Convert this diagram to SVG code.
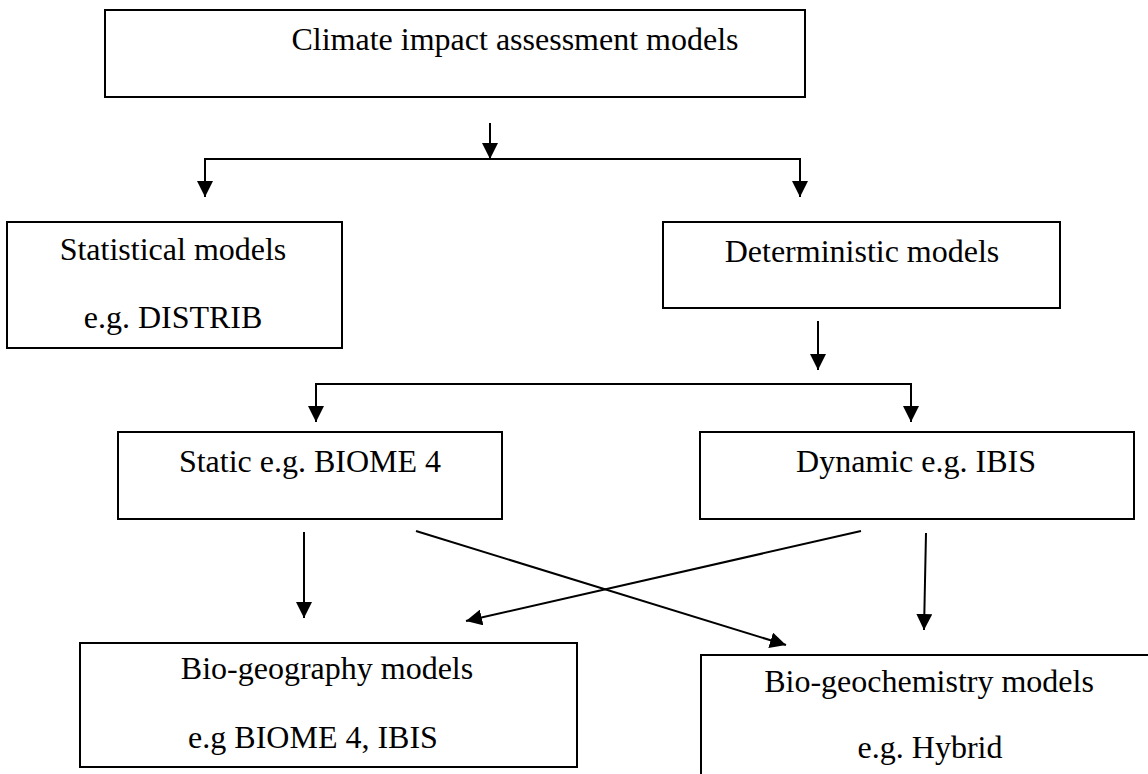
<svg xmlns="http://www.w3.org/2000/svg" width="1148" height="774" viewBox="0 0 1148 774">
<style>
.box{fill:#fff;stroke:#000;stroke-width:2}
.t{font-family:"Liberation Serif","Times New Roman",serif;font-size:32px;fill:#000;text-anchor:middle}
.c{fill:none;stroke:#000;stroke-width:2}
</style>
<defs>
<marker id="ah" markerUnits="userSpaceOnUse" markerWidth="16" markerHeight="16" viewBox="0 0 16 16" refX="16" refY="8" orient="auto">
<path d="M0,0 L16,8 L0,16 z" fill="#000"/>
</marker>
</defs>
<rect width="1148" height="774" fill="#fff"/>
<g id="climate">
<rect class="box" x="105" y="10" width="700" height="87"/>
<text class="t" x="515" y="50">Climate impact assessment models</text>
</g>
<g id="statistical">
<rect class="box" x="7" y="222" width="335" height="126"/>
<text class="t" x="173" y="260">Statistical models</text>
<text class="t" x="173" y="328">e.g. DISTRIB</text>
</g>
<g id="deterministic">
<rect class="box" x="663" y="222" width="397" height="86"/>
<text class="t" x="862" y="262">Deterministic models</text>
</g>
<g id="static">
<rect class="box" x="118" y="432" width="384" height="87"/>
<text class="t" x="310" y="472">Static e.g. BIOME 4</text>
</g>
<g id="dynamic">
<rect class="box" x="700" y="432" width="434" height="87"/>
<text class="t" x="916" y="472">Dynamic e.g. IBIS</text>
</g>
<g id="biogeography">
<rect class="box" x="80" y="643" width="497" height="124"/>
<text class="t" x="327" y="679">Bio-geography models</text>
<text class="t" x="313" y="748">e.g BIOME 4, IBIS</text>
</g>
<g id="biogeochemistry">
<rect class="box" x="701" y="655" width="460" height="130"/>
<text class="t" x="929" y="692">Bio-geochemistry models</text>
<text class="t" x="930" y="758">e.g. Hybrid</text>
</g>
<g id="connectors">
<line class="c" x1="490" y1="123" x2="490" y2="159" marker-end="url(#ah)"/>
<polyline class="c" points="205,190 205,159 800,159 800,190"/>
<line class="c" x1="205" y1="159" x2="205" y2="197" marker-end="url(#ah)"/>
<line class="c" x1="800" y1="159" x2="800" y2="197" marker-end="url(#ah)"/>
<line class="c" x1="818" y1="321" x2="818" y2="370" marker-end="url(#ah)"/>
<polyline class="c" points="316,410 316,384 911,384 911,410"/>
<line class="c" x1="316" y1="384" x2="316" y2="422" marker-end="url(#ah)"/>
<line class="c" x1="911" y1="384" x2="911" y2="422" marker-end="url(#ah)"/>
<line class="c" x1="304" y1="532" x2="304" y2="618" marker-end="url(#ah)"/>
<line class="c" x1="416" y1="531" x2="786" y2="645" marker-end="url(#ah)"/>
<line class="c" x1="861" y1="531" x2="466" y2="621" marker-end="url(#ah)"/>
<line class="c" x1="926" y1="533" x2="924" y2="630" marker-end="url(#ah)"/>
</g>
</svg>
